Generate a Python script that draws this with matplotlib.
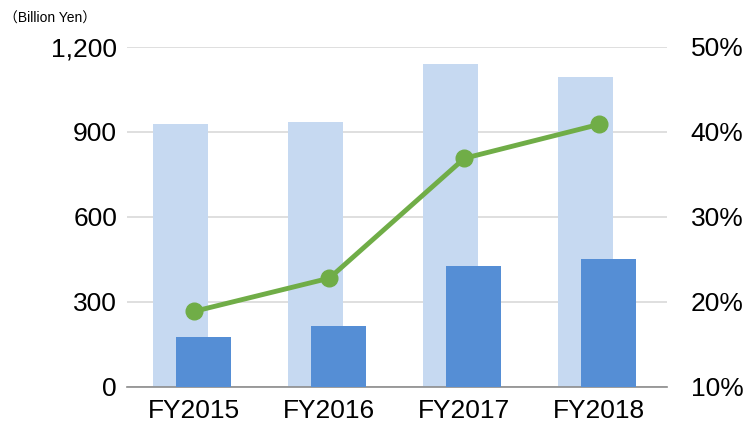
import matplotlib.pyplot as plt
import numpy as np
from matplotlib.ticker import FuncFormatter

plt.rcParams['font.family'] = ['Liberation Sans', 'DejaVu Sans']

# Data
years = ['FY2015', 'FY2016', 'FY2017', 'FY2018']
total = [928, 935, 1140, 1094]      # light bars
part = [176, 215, 427, 452]         # dark bars
ratio = [18.9, 22.8, 36.9, 40.9]    # green line (%)

x = np.arange(len(years))

fig = plt.figure(figsize=(7.46, 4.24), dpi=100)
ax = fig.add_axes([0.170, 0.0873, 0.724, 0.802])

bw = 0.407
ax.bar(x - 0.1, total, width=bw, color='#C6D9F1', zorder=2)
ax.bar(x + 0.07, part, width=bw, color='#558ED5', zorder=3)

ax.set_xlim(-0.5, 3.5)
ax.set_ylim(0, 1200)
ax.set_yticks([0, 300, 600, 900, 1200])
ax.yaxis.set_major_formatter(FuncFormatter(lambda v, p: f'{int(v):,}'))
ax.set_xticks(x)
ax.set_xticklabels(years)
ax.grid(axis='y', color='#D9D9D9', linewidth=1.2, zorder=0)
ax.set_axisbelow(True)
for s in ['top', 'left', 'right']:
    ax.spines[s].set_visible(False)
ax.spines['bottom'].set_color('#8C8C8C')
ax.spines['bottom'].set_linewidth(1.2)
ax.tick_params(length=0, labelsize=19, pad=7)
ax.tick_params(axis='x', pad=9)

# Secondary axis for the ratio
ax2 = ax.twinx()
ax2.plot(x, ratio, color='#70AD47', linewidth=3.5, marker='o', markersize=12, zorder=5)
ax2.set_ylim(10, 50)
ax2.set_yticks([10, 20, 30, 40, 50])
ax2.yaxis.set_major_formatter(FuncFormatter(lambda v, p: f'{int(v)}%'))
for s in ['top', 'left', 'right', 'bottom']:
    ax2.spines[s].set_visible(False)
ax2.tick_params(length=0, labelsize=19, pad=17)

fig.text(0.005, 0.955, '（Billion Yen）', fontsize=10,
         family=['Liberation Sans', 'Noto Sans CJK JP'], va='center')

fig.savefig('out.png', dpi=100)
